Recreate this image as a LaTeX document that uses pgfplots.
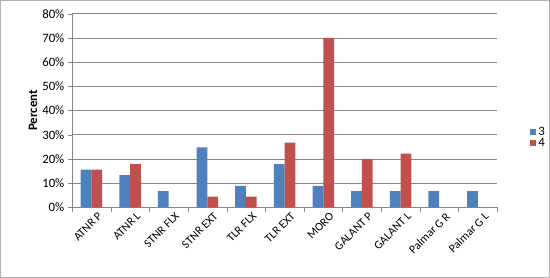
\documentclass[border=0pt]{standalone}
\usepackage{pgfplots}
\pgfplotsset{compat=1.18}
\usepackage{fontspec}
\setmainfont{Carlito}
\definecolor{xlblue}{HTML}{4F81BD}
\definecolor{xlred}{HTML}{C0504D}
\definecolor{gridgray}{HTML}{868686}

\begin{document}
\begin{tikzpicture}[x=1pt,y=1pt]
  % outer chart frame
  \draw[draw=gray!60,line width=0.8pt] (-70,-68) rectangle (466,202);
  \begin{axis}[
      at={(0,0)}, anchor=south west,
      scale only axis,
      width=415pt, height=189pt,
      ybar=0pt, bar width=10.5pt,
      ymin=0, ymax=0.8,
      ytick={0,0.1,...,0.8},
      yticklabel={\pgfmathparse{\tick*100}\pgfmathprintnumber[fixed,precision=0]{\pgfmathresult}\%},
      xmin=-0.5, xmax=10.5,
      xtick={0,...,10},
      xticklabels={ATNR P,ATNR L,STNR FLX,STNR EXT,TLR FLX,TLR EXT,MORO,GALANT P,GALANT L,Palmar G R,Palmar G L},
      x tick label style={rotate=45,anchor=north east,font=\fontsize{11.5}{13}\selectfont,inner sep=1pt,yshift=-3pt,xshift=5pt},
      y tick label style={font=\fontsize{12.5}{14}\selectfont},
      major x tick style={draw=none},
      minor xtick={-0.5,0.5,...,10.5},
      minor x tick style={draw=gridgray},
      minor tick length=5pt,
      xtick align=outside,
      major y tick style={draw=gridgray},
      ytick align=outside, major tick length=4pt,
      ymajorgrids, grid style={draw=gridgray,line width=0.6pt},
      axis x line*=bottom, axis y line*=left,
      axis line style={draw=gridgray,line width=0.6pt},
      ylabel={\textbf{Percent}},
      ylabel style={font=\fontsize{12.5}{14}\selectfont,yshift=-2pt},
      /pgf/number format/assume math mode=true,
      legend style={at={(1.07,0.36)},anchor=west,draw=none,fill=none,
        font=\fontsize{12.5}{14}\selectfont,row sep=-3pt},
      legend image code/.code={\fill[#1] (0pt,-3pt) rectangle (6pt,3pt);},
      clip=false,
    ]
    \addplot[fill=xlblue,draw=none] coordinates {
      (0,0.156) (1,0.133) (2,0.067) (3,0.248) (4,0.089) (5,0.178)
      (6,0.089) (7,0.067) (8,0.067) (9,0.067) (10,0.067)};
    \addplot[fill=xlred,draw=none] coordinates {
      (0,0.156) (1,0.178) (2,0) (3,0.044) (4,0.044) (5,0.267)
      (6,0.70) (7,0.20) (8,0.222) (9,0) (10,0)};
    \legend{3,4}
  \end{axis}
\end{tikzpicture}
\end{document}
